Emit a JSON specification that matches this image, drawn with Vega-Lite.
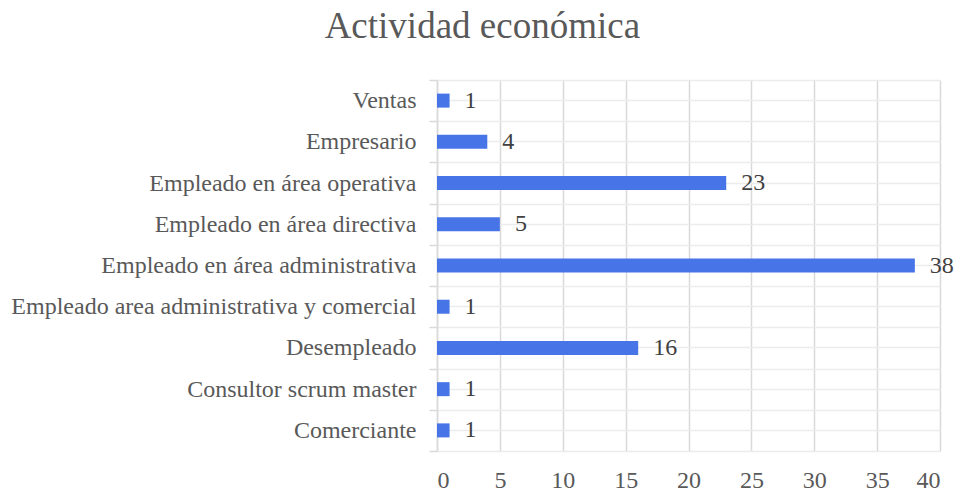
{
  "$schema": "https://vega.github.io/schema/vega-lite/v6.json",
  "width": 503,
  "height": 371,
  "autosize": "none",
  "padding": {"left": 437, "top": 80, "right": 15, "bottom": 41},
  "background": "white",
  "title": {"text": "Actividad económica", "font": "Liberation Serif", "fontSize": 37, "fontWeight": "normal", "color": "#595959", "frame": "bounds", "anchor": "middle", "offset": 22},
  "config": {"view": {"stroke": null}},
  "data": {"values": [
    {"actividad": "Ventas", "valor": 1},
    {"actividad": "Empresario\u00a0", "valor": 4},
    {"actividad": "Empleado en área operativa", "valor": 23},
    {"actividad": "Empleado en área directiva", "valor": 5},
    {"actividad": "Empleado en área administrativa", "valor": 38},
    {"actividad": "Empleado area administrativa y comercial", "valor": 1},
    {"actividad": "Desempleado", "valor": 16},
    {"actividad": "Consultor scrum master\u00a0", "valor": 1},
    {"actividad": "Comerciante", "valor": 1}
  ]},
  "encoding": {
    "x": {"field": "valor", "type": "quantitative", "scale": {"domain": [0, 40], "nice": false},
      "axis": {"title": null, "values": [0, 5, 10, 15, 20, 25, 30, 35, 40], "grid": true, "gridColor": "#d9d9d9", "gridWidth": 1.5, "domain": false, "ticks": false,
        "labelFont": "Liberation Serif", "labelFontSize": 24, "labelColor": "#595959", "labelPadding": 17}}
  },
  "layer": [
    {
      "mark": {"type": "bar", "color": "#4775E7", "height": {"band": 0.34}},
      "encoding": {
        "y": {"field": "actividad", "type": "nominal", "sort": null, "scale": {"paddingInner": 0, "paddingOuter": 0},
          "axis": {"title": null, "orient": "left", "tickBand": "extent", "ticks": true, "tickSize": 8, "tickColor": "#d9d9d9", "tickWidth": 1.5,
            "domain": true, "domainColor": "#d9d9d9", "domainWidth": 1.5, "grid": true, "gridColor": "#ececec", "gridWidth": 1.3,
            "labelFont": "Liberation Serif", "labelFontSize": 24, "labelColor": "#595959", "labelPadding": 13, "labelLimit": 700}}
      }
    },
    {
      "mark": {"type": "text", "align": "left", "baseline": "middle", "dx": 15, "font": "Liberation Serif", "fontSize": 24, "color": "#404040"},
      "encoding": {
        "y": {"field": "actividad", "type": "nominal", "sort": null,
          "axis": {"title": null, "orient": "right", "bandPosition": 0.5, "labels": false, "ticks": false, "domain": false, "grid": true, "gridColor": "#ececec", "gridWidth": 1.3}},
        "text": {"field": "valor", "type": "quantitative"}
      }
    }
  ],
  "resolve": {"axis": {"y": "independent"}}
}
